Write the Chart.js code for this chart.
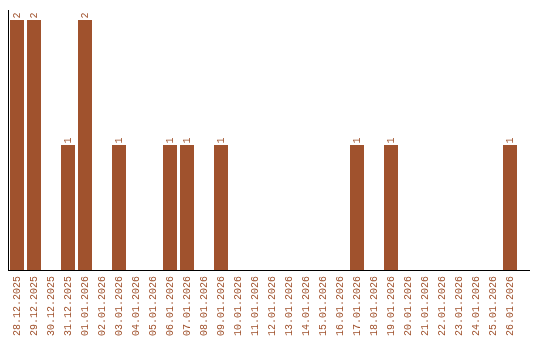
<!DOCTYPE html>
<html>
<head>
<meta charset="utf-8">
<script src="https://cdn.jsdelivr.net/npm/chart.js@4/dist/chart.umd.min.js"></script>
<style>
  html, body { margin: 0; padding: 0; background: #ffffff; }
  #wrap { width: 540px; height: 340px; }
</style>
</head>
<body>
<div id="wrap"><canvas id="canvas1"></canvas></div>
<script>
const days = [
    "28.12.2025", "29.12.2025", "30.12.2025", "31.12.2025",
    "01.01.2026", "02.01.2026", "03.01.2026", "04.01.2026", "05.01.2026",
    "06.01.2026", "07.01.2026", "08.01.2026", "09.01.2026", "10.01.2026",
    "11.01.2026", "12.01.2026", "13.01.2026", "14.01.2026", "15.01.2026",
    "16.01.2026", "17.01.2026", "18.01.2026", "19.01.2026", "20.01.2026",
    "21.01.2026", "22.01.2026", "23.01.2026", "24.01.2026", "25.01.2026",
    "26.01.2026"
];

const counts = [
    2, 2, 0, 1,
    2, 0, 1, 0, 0,
    1, 1, 0, 1, 0,
    0, 0, 0, 0, 0,
    0, 1, 0, 1, 0,
    0, 0, 0, 0, 0,
    1
];

const brown = "#a0522d";
const monoFont = "'Liberation Mono', monospace";

// values written above the bars, rotated like the dates
const barValues = {
    id: "barValues",
    afterDatasetsDraw: function(chart){
        const ctx = chart.ctx;
        const meta = chart.getDatasetMeta(0);
        ctx.save();
        ctx.fillStyle = brown;
        ctx.font = "10px " + monoFont;
        ctx.textAlign = "left";
        ctx.textBaseline = "middle";
        meta.data.forEach(function(bar, i){
            if(counts[i] > 0){
                ctx.save();
                ctx.translate(bar.x, bar.y - 1.5);
                ctx.rotate(-Math.PI / 2);
                ctx.fillText(String(counts[i]), 0, 0);
                ctx.restore();
            }
        });
        ctx.restore();
    }
};

// x axis line runs a bit further than the last category
const axisTail = {
    id: "axisTail",
    afterDraw: function(chart){
        const ctx = chart.ctx;
        const area = chart.chartArea;
        ctx.save();
        ctx.strokeStyle = "#000000";
        ctx.lineWidth = 1;
        ctx.beginPath();
        ctx.moveTo(area.right, Math.round(area.bottom) + 0.5);
        ctx.lineTo(chart.width - 10, Math.round(area.bottom) + 0.5);
        ctx.stroke();
        ctx.restore();
    }
};

const data1 = {
    labels: days,
    datasets: [
        {
            label: "count",
            data: counts,
            backgroundColor: brown,
            borderWidth: 0,
            categoryPercentage: 14 / 17,
            barPercentage: 1
        }
    ]
};

const config1 = {
    type: "bar",
    data: data1,
    options: {
        responsive: true,
        maintainAspectRatio: false,
        animation: false,
        layout: {
            padding: { left: 0, right: 21.5, top: 10, bottom: 0 }
        },
        plugins: {
            legend: { display: false },
            tooltip: { enabled: false }
        },
        scales: {
            x: {
                grid: { display: false, drawTicks: false },
                border: { display: true, color: "#000000", width: 1 },
                ticks: {
                    color: brown,
                    font: { family: monoFont, size: 10 },
                    minRotation: 90,
                    maxRotation: 90,
                    autoSkip: false,
                    padding: 6
                },
                afterFit: function(scale){
                    scale.height = 70;
                }
            },
            y: {
                min: 0,
                max: 2.08,
                grid: { display: false, drawTicks: false },
                border: { display: true, color: "#000000", width: 1 },
                ticks: { display: false },
                afterFit: function(scale){
                    scale.width = 8.5;
                }
            }
        }
    },
    plugins: [barValues, axisTail]
};

new Chart(document.getElementById("canvas1"), config1);
</script>
</body>
</html>
